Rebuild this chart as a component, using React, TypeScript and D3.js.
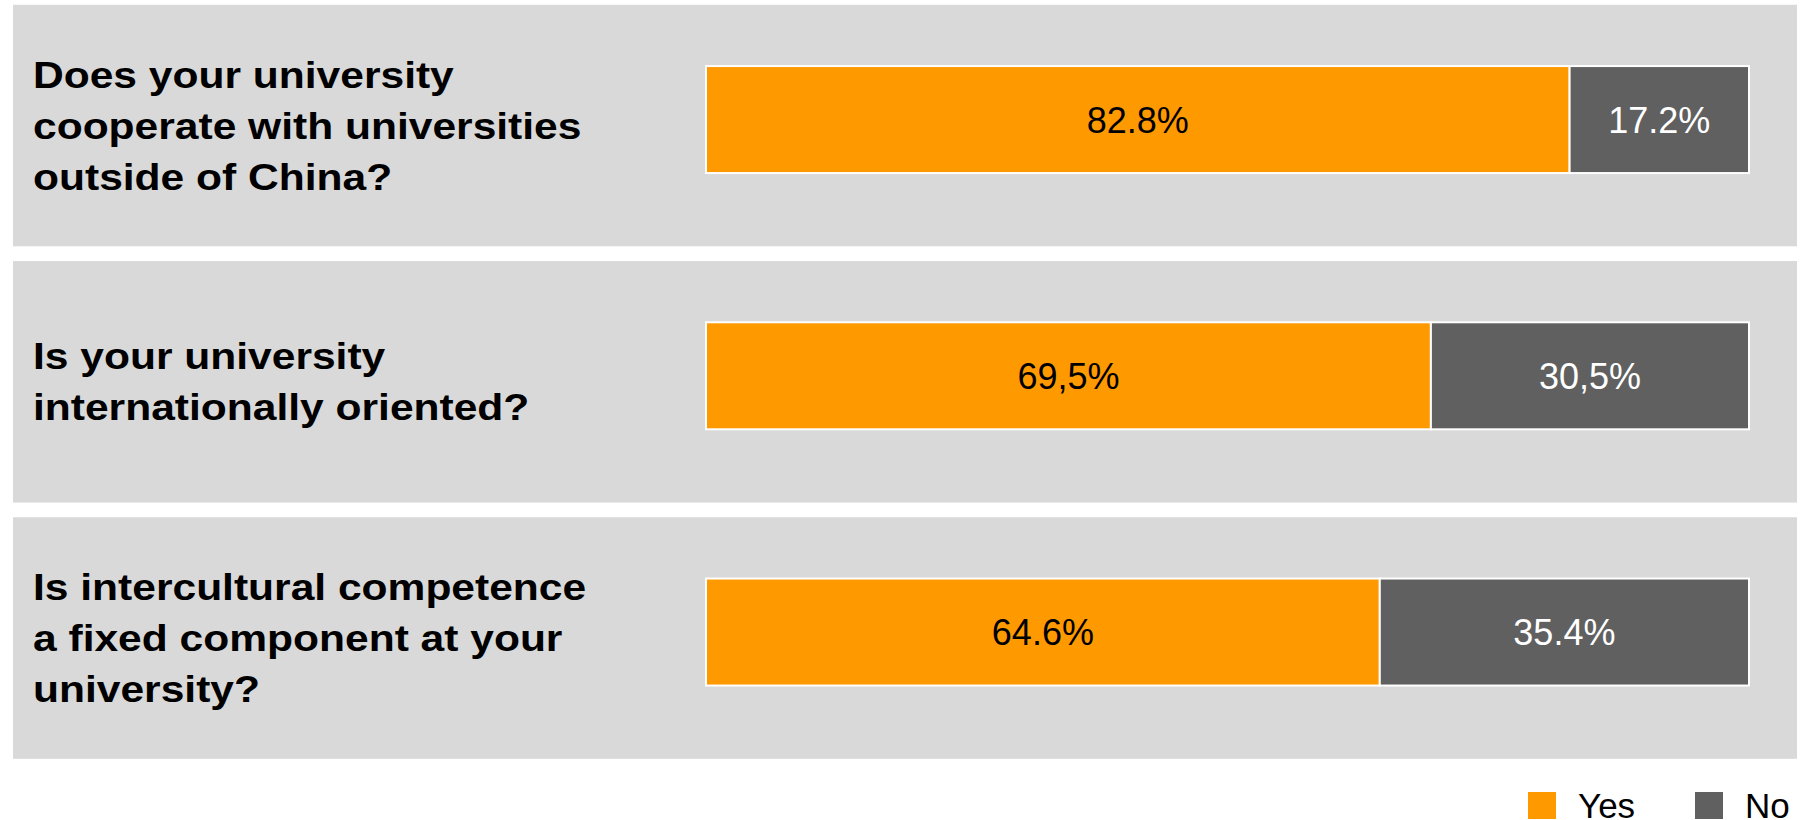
import React from "react";
import * as d3 from "d3";

const questions = [
  ["Does your university", "cooperate with universities", "outside of China?"],
  ["Is your university", "internationally oriented?"],
  ["Is intercultural competence", "a fixed component at your", "university?"],
];
const yesValues = [82.8, 69.5, 64.6];
const noValues = [17.2, 30.5, 35.4];
const yesLabels = ["82.8%", "69,5%", "64.6%"];
const noLabels = ["17.2%", "30,5%", "35.4%"];
const seriesNames = ["Yes", "No"];
const seriesColors = ["#FF9900", "#606060"];
const labelColors = ["#000000", "#FFFFFF"];

const W = 1805;
const H = 820;

export default function App() {
  const y = d3
    .scaleBand<number>()
    .domain(questions.map((_, i) => i))
    .range([4.8, 758.8])
    .paddingInner(0.0574)
    .paddingOuter(0);
  const x = d3.scaleLinear().domain([0, 100]).range([706, 1749]);
  const barH = 107;
  const lineH = 51;
  const font = "'Liberation Sans', Arial, Helvetica, sans-serif";

  return (
    <div style={{ position: "fixed", left: 0, top: 0 }}>
      <svg width={W} height={H} style={{ display: "block", background: "#fff" }}>
        {questions.map((lines, i) => {
          const top = y(i)!;
          const bw = y.bandwidth();
          const cy = top + bw / 2;
          const barTop = cy - 6 - barH / 2;
          const segs = [
            { x0: 0, x1: yesValues[i], label: yesLabels[i], s: 0 },
            { x0: yesValues[i], x1: yesValues[i] + noValues[i], label: noLabels[i], s: 1 },
          ];
          const n = lines.length;
          const firstBase = cy + 13 - ((n - 1) * lineH) / 2;
          return (
            <g key={i}>
              <rect x={13} y={top} width={1797 - 13} height={bw} fill="#D9D9D9" />
              <g transform={`translate(33,0) scale(1.15,1)`}>
                {lines.map((t, j) => (
                  <text
                    key={j}
                    x={0}
                    y={firstBase + j * lineH}
                    fontFamily={font}
                    fontWeight="bold"
                    fontSize={37}
                    fill="#000"
                  >
                    {t}
                  </text>
                ))}
              </g>
              {segs.map((sg) => (
                <g key={sg.s}>
                  <rect
                    x={x(sg.x0)}
                    y={barTop}
                    width={x(sg.x1) - x(sg.x0)}
                    height={barH}
                    fill={seriesColors[sg.s]}
                    stroke="#FFFFFF"
                    strokeWidth={2}
                  />
                  <text
                    x={(x(sg.x0) + x(sg.x1)) / 2}
                    y={barTop + barH / 2 + 13}
                    textAnchor="middle"
                    fontFamily={font}
                    fontSize={36}
                    fill={labelColors[sg.s]}
                  >
                    {sg.label}
                  </text>
                </g>
              ))}
            </g>
          );
        })}
        {seriesNames.map((name, k) => {
          const lx = [1528, 1695][k];
          return (
            <g key={name}>
              <rect x={lx} y={792} width={28} height={27} fill={seriesColors[k]} />
              <text x={lx + 50} y={818} fontFamily={font} fontSize={35} fill="#000">
                {name}
              </text>
            </g>
          );
        })}
      </svg>
    </div>
  );
}
